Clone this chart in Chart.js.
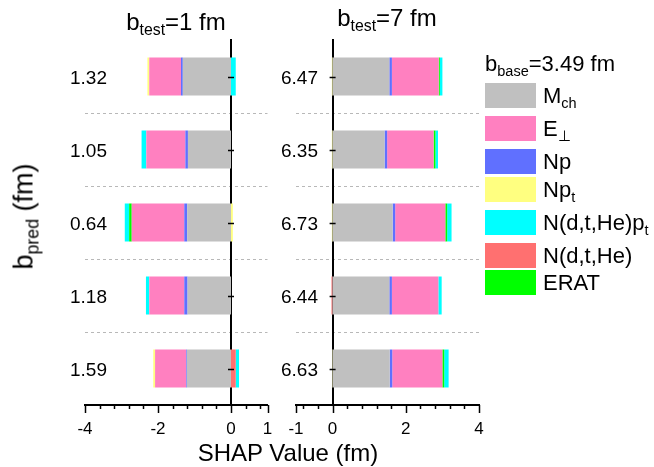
<!DOCTYPE html>
<html>
<head>
<meta charset="utf-8">
<script src="https://cdn.jsdelivr.net/npm/chart.js@4.4.1/dist/chart.umd.min.js"></script>
<style>
  body { margin: 0; background: #fff; }
  #wrap { position: relative; width: 654px; height: 467px; overflow: hidden;
          font-family: "Liberation Sans", Arial, Helvetica, sans-serif; color: #000; }
  #wrap canvas { position: absolute; left: 0; top: 0; }
  .txt { position: absolute; white-space: nowrap; line-height: 1; }
  .txt sub { font-size: 0.66em; line-height: 0; vertical-align: -0.32em; }
  .center { text-align: center; width: 240px; }
  .sw { position: absolute; left: 485px; width: 51px; height: 25px; }
</style>
</head>
<body>
<div id="wrap">
  <canvas id="chartLeft" width="654" height="467"></canvas>
  <canvas id="chartRight" width="654" height="467"></canvas>

  <div class="txt center" style="left:56px; top:10px; font-size:24px;">b<sub>test</sub>=1 fm</div>
  <div class="txt center" style="left:267px; top:6px; font-size:24px;">b<sub>test</sub>=7 fm</div>
  <div class="txt center" style="left:168px; top:441px; font-size:24px;">SHAP Value (fm)</div>
  <div class="txt center" style="left:-96px; top:203px; font-size:27px; transform: rotate(-90deg);">b<sub>pred</sub> (fm)</div>

  <div id="legend"></div>
</div>

<script>
// ── data ──
const rowsLeft  = ['1.32', '1.05', '0.64', '1.18', '1.59'];   // b_test = 1 fm
const rowsRight = ['6.47', '6.35', '6.73', '6.44', '6.63'];   // b_test = 7 fm

// SHAP contributions per feature (one value per row)
const mchLeft      = [-1.32, -1.18, -1.20, -1.19, -1.21];
const npLeft       = [-0.05, -0.07, -0.08, -0.09, -0.02];
const eperpLeft    = [-0.87, -1.07, -1.44, -0.96, -0.85];
const nptLeft      = [-0.05,  0,     0.05,  0,    -0.05];
const ndtheLeft    = [ 0,     0,     0,     0,     0.13];
const eratLeft     = [ 0,     0,    -0.07,  0,     0   ];
const ndtheptLeft  = [ 0.13, -0.13, -0.12, -0.09,  0.09];

const mchRight     = [1.55, 1.42, 1.64, 1.55, 1.56];
const npRight      = [0.07, 0.07, 0.07, 0.07, 0.07];
const eperpRight   = [1.28, 1.27, 1.37, 1.27, 1.37];
const nptRight     = [-0.02, -0.02, -0.02, 0, -0.01];
const ndtheRight   = [0, 0, 0, -0.03, 0];
const eratRight    = [0.03, 0.05, 0.05, 0, 0.05];
const ndtheptRight = [0.07, 0.07, 0.12, 0.09, 0.12];

const tickLabelsLeft  = [-4, -2, 0, 1];
const tickLabelsRight = [-1, 0, 2, 4];

// ── styling ──
const FONT = '"Liberation Sans", Arial, Helvetica, sans-serif';
const COLORS = {
    mch: '#c0c0c0', eperp: '#ff80c0', np: '#6070ff', npt: '#ffff80',
    ndthept: '#00ffff', ndthe: '#ff7070', erat: '#00ff00'
};

// legend (its own order, not the stacking order)
const legendItems = [
    ['mch', 'M<sub>ch</sub>', 83],
    ['eperp', 'E<sub>\u22a5</sub>', 116],
    ['np', 'Np', 149],
    ['npt', 'Np<sub>t</sub>', 177],
    ['ndthept', 'N(d,t,He)p<sub>t</sub>', 210],
    ['ndthe', 'N(d,t,He)', 243],
    ['erat', 'ERAT', 270]
];

(function buildLegend() {
    const box = document.getElementById('legend');
    let html = '<div class="txt" style="left:485px; top:53px; font-size:22px;">b<sub>base</sub>=3.49 fm</div>';
    legendItems.forEach(([key, label, top]) => {
        html += `<div class="sw" style="top:${top}px; background:${COLORS[key]};"></div>`;
        html += `<div class="txt" style="left:543px; top:${top + 2.4}px; font-size:22px;">${label}</div>`;
    });
    box.innerHTML = html;
})();

// tick marks on both axes + row labels
const axisDecor = {
    id: 'axisDecor',
    afterDraw(chart) {
        const o = chart.options.plugins.axisDecor;
        const { ctx, chartArea } = chart;
        const xs = chart.scales.x, ys = chart.scales.y;
        ctx.save();
        ctx.strokeStyle = '#000';
        ctx.lineWidth = 1.5;

        // x ticks: minor every 0.4, major at labelled values / ends
        const vals = [];
        for (let k = Math.ceil(xs.min / o.minorStep - 1e-9); k * o.minorStep <= xs.max + 1e-9; k++) {
            vals.push(+(k * o.minorStep).toFixed(4));
        }
        o.majors.forEach(v => { if (!vals.includes(v)) vals.push(v); });
        vals.forEach(v => {
            const px = Math.round(xs.getPixelForValue(v)) + 0.5;
            const len = o.majors.includes(v) ? 8 : 4;
            ctx.beginPath();
            ctx.moveTo(px, xs.top);
            ctx.lineTo(px, xs.top + len);
            ctx.stroke();
        });

        // y ticks cross the zero line, labels sit near the left edge
        const x0 = xs.getPixelForValue(0);
        ctx.fillStyle = '#000';
        ctx.font = '19px ' + FONT;
        ctx.textAlign = 'right';
        ctx.textBaseline = 'middle';
        o.rows.forEach((lab, i) => {
            const py = Math.round(ys.getPixelForValue(i)) + 0.5;
            ctx.beginPath();
            ctx.moveTo(x0 - 3, py);
            ctx.lineTo(x0 + 3, py);
            ctx.stroke();
            ctx.fillText(lab, chartArea.left + 22, py + 1);
        });
        ctx.restore();
    }
};

function makeDatasets(d) {
    // stacking order from zero outwards
    return [
        ['mch', d.mch], ['np', d.np], ['eperp', d.eperp], ['npt', d.npt],
        ['ndthe', d.ndthe], ['erat', d.erat], ['ndthept', d.ndthept]
    ].map(([key, data]) => ({
        label: key,
        data: data,
        backgroundColor: COLORS[key],
        borderWidth: 0,
        barPercentage: 0.52,
        categoryPercentage: 1.0
    }));
}

function createPanel(canvasId, rows, d, xmin, xmax, majors, area) {
    return new Chart(document.getElementById(canvasId), {
        type: 'bar',
        data: { labels: rows, datasets: makeDatasets(d) },
        plugins: [axisDecor],
        options: {
            indexAxis: 'y',
            responsive: false,
            animation: false,
            layout: { padding: { left: area.left, right: 654 - area.right, top: 40, bottom: 0 } },
            plugins: {
                legend: { display: false },
                tooltip: { enabled: false },
                axisDecor: { minorStep: 0.4, majors: majors, rows: rows }
            },
            scales: {
                x: {
                    type: 'linear',
                    stacked: true,
                    min: xmin,
                    max: xmax,
                    afterBuildTicks: s => { s.ticks = majors.map(v => ({ value: v })); },
                    afterFit: s => { s.height = 62; },
                    grid: { display: false, drawTicks: false },
                    border: { display: true, color: '#000', width: 2 },
                    ticks: { font: { family: FONT, size: 17 }, color: '#000', padding: 14, maxRotation: 0 }
                },
                y: {
                    type: 'category',
                    stacked: true,
                    position: { x: 0 },
                    z: 1,
                    grid: {
                        offset: true,
                        drawTicks: false,
                        lineWidth: 1,
                        color: c => (c.type === 'tick' && c.index > 0) ? '#b8b8b8' : 'rgba(0,0,0,0)'
                    },
                    border: { display: true, color: '#000', width: 2, dash: [3, 3] },
                    ticks: { display: false }
                }
            }
        }
    });
}

createPanel('chartLeft', rowsLeft, {
    mch: mchLeft, np: npLeft, eperp: eperpLeft, npt: nptLeft,
    ndthe: ndtheLeft, erat: eratLeft, ndthept: ndtheptLeft
}, -4, 1, tickLabelsLeft, { left: 85, right: 267.5 });

createPanel('chartRight', rowsRight, {
    mch: mchRight, np: npRight, eperp: eperpRight, npt: nptRight,
    ndthe: ndtheRight, erat: eratRight, ndthept: ndtheptRight
}, -1, 4, tickLabelsRight, { left: 296, right: 479 });
</script>
</body>
</html>
